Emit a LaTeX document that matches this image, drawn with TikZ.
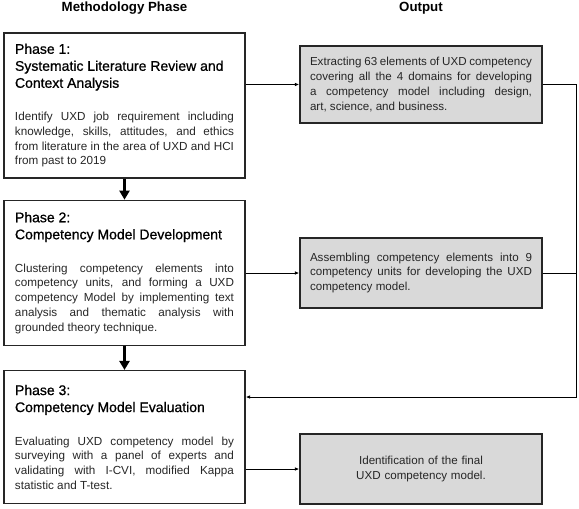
\documentclass[tikz,border=0pt]{standalone}
\usepackage{fontspec}
\setmainfont{Liberation Sans}
\newfontfamily\phasefont[FakeBold=0.8]{Liberation Sans}
\usetikzlibrary{positioning,arrows.meta}
\setlength{\parindent}{0pt}
\newcommand{\phasetitle}[1]{{\phasefont\fontsize{14bp}{17bp}\selectfont\color{black}#1\par}\vspace{18.3bp}}

\begin{document}
\begin{tikzpicture}[x=1bp,y=1bp,
  phasebox/.style={draw=black!85,line width=1.3bp,text width=219bp,inner xsep=11bp,inner ysep=0bp,
    align=justify,text=black!85,font=\fontsize{11.7bp}{14.7bp}\selectfont},
  outbox/.style={draw=black!85,line width=1.3bp,fill=black!15,text width=222bp,inner xsep=10bp,inner ysep=0bp,
    align=justify,text=black!85,font=\fontsize{11.6bp}{14.7bp}\selectfont,minimum height=70bp},
  head/.style={font=\bfseries\fontsize{13.3bp}{16bp}\selectfont},
  flow/.style={-{Triangle[length=9bp,width=10bp]},line width=3bp},
  link/.style={-{Latex[length=4.5bp,width=3.6bp]},line width=0.9bp}]
  \useasboundingbox (0,0) rectangle (579,-509);
  % Node: headings
  \node[head] (mhead) at (124.5,-8) {Methodology Phase};
  \node[head] (ohead) at (421,-8) {Output};
  % Node: p1
  \node[phasebox,minimum height=145bp] (p1) at (124.5,-105.5)
    {\phasetitle{Phase 1:\\Systematic Literature Review and\\Context Analysis}%
     Identify UXD job requirement including\linebreak
     knowledge, skills, attitudes, and ethics\linebreak
     from literature in the area of UXD and HCI\linebreak
     from past to 2019};
  % Node: p2
  \node[phasebox,minimum height=145bp,below=21bp of p1] (p2)
    {\phasetitle{Phase 2:\\Competency Model Development}%
     Clustering competency elements into\linebreak
     competency units, and forming a UXD\linebreak
     competency Model by implementing text\linebreak
     analysis and thematic analysis with\linebreak
     grounded theory technique.};
  % Node: p3
  \node[phasebox,minimum height=133bp,below=24bp of p2] (p3)
    {\phasetitle{Phase 3:\\Competency Model Evaluation}%
     Evaluating UXD competency model by\linebreak
     surveying with a panel of experts and\linebreak
     validating with I-CVI, modified Kappa\linebreak
     statistic and T-test.};
  % Node: o1
  \node[outbox,minimum height=77bp] (o1) at (421,-84.5)
    {Extracting 63 elements of UXD competency\linebreak
     covering all the 4 domains for developing\linebreak
     a competency model including design,\linebreak
     art, science, and business.};
  % Node: o2
  \node[outbox] (o2) at (421,-273)
    {Assembling competency elements into 9\linebreak
     competency units for developing the UXD\linebreak
     competency model.};
  % Node: o3
  \node[outbox,align=center] (o3) at (421,-469)
    {Identification of the final\\UXD competency model.};
  \coordinate (bus) at (576,-397);
  % Edge: p1 -> p2 -> p3
  \draw[flow] (p1) -- (p2);
  \draw[flow] (p2) -- (p3);
  % Edge: p -> o
  \draw[link] (p1.east |- o1.west) -- (o1.west);
  \draw[link] (p2.east |- o2.west) -- (o2.west);
  \draw[link] (p3.east |- o3.west) -- (o3.west);
  % Edge: o1, o2 -> p3
  \draw[link] (o1.east) -| (bus) -- (p3.east |- bus);
  \draw[line width=0.9bp] (o2.east) -- (o2.east -| bus);
\end{tikzpicture}
\end{document}
